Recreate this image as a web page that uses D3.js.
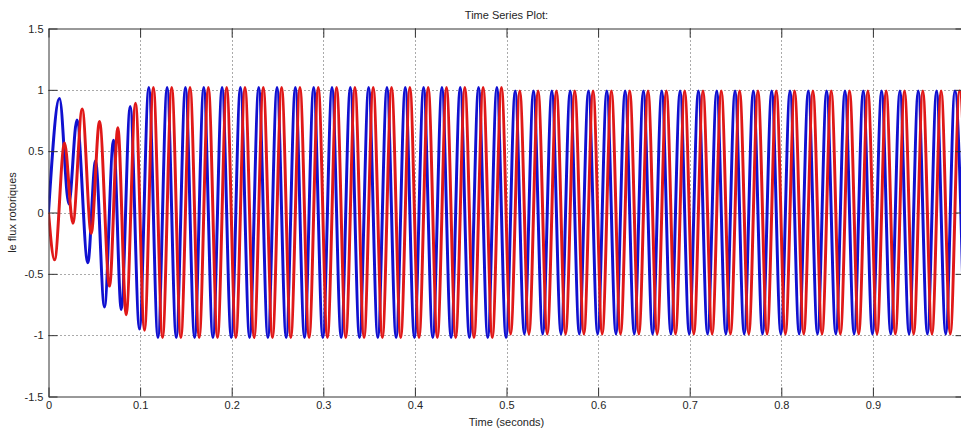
<!DOCTYPE html>
<html>
<head>
<meta charset="utf-8">
<script src="https://cdn.jsdelivr.net/npm/d3@7"></script>
<style>
  body { margin: 0; background: #fff; }
  svg { display: block; }
  text { font-family: "Liberation Sans", Arial, Helvetica, sans-serif; }
</style>
</head>
<body>
<svg id="chart" width="961" height="434"></svg>
<script>
// Axis ticks
const xTicks = [0, 0.1, 0.2, 0.3, 0.4, 0.5, 0.6, 0.7, 0.8, 0.9];
const xTickLabels = ["0", "0.1", "0.2", "0.3", "0.4", "0.5", "0.6", "0.7", "0.8", "0.9"];
const yTicks = [-1.5, -1, -0.5, 0, 0.5, 1, 1.5];
const yTickLabels = ["-1.5", "-1", "-0.5", "0", "0.5", "1", "1.5"];

// Rotor flux, alpha component (blue): turning points of the waveform
const alphaTime = [
  0, 0.012, 0.0222, 0.031, 0.0429, 0.0513, 0.0611, 0.071, 0.0794, 0.0892, 0.0993,
  0.1095, 0.1195, 0.1295, 0.1395, 0.1495, 0.1595, 0.1695, 0.1795, 0.1895, 0.1995,
  0.2095, 0.2195, 0.2295, 0.2395, 0.2495, 0.2595, 0.2695, 0.2795, 0.2895, 0.2995,
  0.3095, 0.3195, 0.3295, 0.3395, 0.3495, 0.3595, 0.3695, 0.3795, 0.3895, 0.3995,
  0.4095, 0.4195, 0.4295, 0.4395, 0.4495, 0.4595, 0.4695, 0.4795, 0.4895, 0.4995,
  0.5095, 0.5195, 0.5295, 0.5395, 0.5495, 0.5595, 0.5695, 0.5795, 0.5895, 0.5995,
  0.6095, 0.6195, 0.6295, 0.6395, 0.6495, 0.6595, 0.6695, 0.6795, 0.6895, 0.6995,
  0.7095, 0.7195, 0.7295, 0.7395, 0.7495, 0.7595, 0.7695, 0.7795, 0.7895, 0.7995,
  0.8095, 0.8195, 0.8295, 0.8395, 0.8495, 0.8595, 0.8695, 0.8795, 0.8895, 0.8995,
  0.9095, 0.9195, 0.9295, 0.9395, 0.9495, 0.9595, 0.9695, 0.9795, 0.9895, 0.9995
];
const alphaFlux = [
  0, 0.93, 0.07, 0.755, -0.41, 0.42, -0.77, 0.59, -0.79, 0.865, -0.95,
  1.02, -1.02, 1.02, -1.02, 1.02, -1.02, 1.02, -1.02, 1.02, -1.02,
  1.02, -1.02, 1.02, -1.02, 1.02, -1.02, 1.02, -1.02, 1.02, -1.02,
  1.02, -1.02, 1.02, -1.02, 1.02, -1.02, 1.02, -1.02, 1.02, -1.02,
  1.02, -1.02, 1.02, -1.02, 1.02, -1.02, 1.02, -1.02, 1.02, -1.02,
  0.99, -0.99, 0.99, -0.99, 0.99, -0.99, 0.99, -0.99, 0.99, -0.99,
  0.99, -0.99, 0.99, -0.99, 0.99, -0.99, 0.99, -0.99, 0.99, -0.99,
  0.99, -0.99, 0.99, -0.99, 0.99, -0.99, 0.99, -0.99, 0.99, -0.99,
  0.99, -0.99, 0.99, -0.99, 0.99, -0.99, 0.99, -0.99, 0.99, -0.99,
  0.99, -0.99, 0.99, -0.99, 0.99, -0.99, 0.99, -0.99, 0.99, -0.99
];

// Rotor flux, beta component (red): turning points of the waveform
const betaTime = [
  0, 0.0066, 0.0175, 0.0266, 0.0368, 0.0466, 0.0557, 0.0666, 0.0757, 0.0848, 0.095, 0.1048,
  0.1145, 0.1245, 0.1345, 0.1445, 0.1545, 0.1645, 0.1745, 0.1845, 0.1945, 0.2045,
  0.2145, 0.2245, 0.2345, 0.2445, 0.2545, 0.2645, 0.2745, 0.2845, 0.2945, 0.3045,
  0.3145, 0.3245, 0.3345, 0.3445, 0.3545, 0.3645, 0.3745, 0.3845, 0.3945, 0.4045,
  0.4145, 0.4245, 0.4345, 0.4445, 0.4545, 0.4645, 0.4745, 0.4845, 0.4945, 0.5045,
  0.5145, 0.5245, 0.5345, 0.5445, 0.5545, 0.5645, 0.5745, 0.5845, 0.5945, 0.6045,
  0.6145, 0.6245, 0.6345, 0.6445, 0.6545, 0.6645, 0.6745, 0.6845, 0.6945, 0.7045,
  0.7145, 0.7245, 0.7345, 0.7445, 0.7545, 0.7645, 0.7745, 0.7845, 0.7945, 0.8045,
  0.8145, 0.8245, 0.8345, 0.8445, 0.8545, 0.8645, 0.8745, 0.8845, 0.8945, 0.9045,
  0.9145, 0.9245, 0.9345, 0.9445, 0.9545, 0.9645, 0.9745, 0.9845, 0.9945, 1.0045
];
const betaFlux = [
  0, -0.386, 0.566, -0.087, 0.843, -0.17, 0.742, -0.6, 0.69, -0.834, 0.89, -0.96,
  1.02, -1.02, 1.02, -1.02, 1.02, -1.02, 1.02, -1.02, 1.02, -1.02,
  1.02, -1.02, 1.02, -1.02, 1.02, -1.02, 1.02, -1.02, 1.02, -1.02,
  1.02, -1.02, 1.02, -1.02, 1.02, -1.02, 1.02, -1.02, 1.02, -1.02,
  1.02, -1.02, 1.02, -1.02, 1.02, -1.02, 1.02, -1.02, 1.02, -0.99,
  0.99, -0.99, 0.99, -0.99, 0.99, -0.99, 0.99, -0.99, 0.99, -0.99,
  0.99, -0.99, 0.99, -0.99, 0.99, -0.99, 0.99, -0.99, 0.99, -0.99,
  0.99, -0.99, 0.99, -0.99, 0.99, -0.99, 0.99, -0.99, 0.99, -0.99,
  0.99, -0.99, 0.99, -0.99, 0.99, -0.99, 0.99, -0.99, 0.99, -0.99,
  0.99, -0.99, 0.99, -0.99, 0.99, -0.99, 0.99, -0.99, 0.99, -0.99
];

const svg = d3.select("#chart");
const plotLeft = 48.5, plotRight = 964.5, plotTop = 28.5, plotBottom = 396.5;
const axisColor = "#333";
const textColor = "#262626";

const x = d3.scaleLinear().domain([0, 1]).range([plotLeft, plotRight]);
const y = d3.scaleLinear().domain([-1.5, 1.5]).range([plotBottom, plotTop]);

svg.append("rect").attr("width", 961).attr("height", 434).attr("fill", "#fff");

svg.append("defs").append("clipPath").attr("id", "plotClip")
  .append("rect")
  .attr("x", plotLeft).attr("y", plotTop)
  .attr("width", plotRight - plotLeft).attr("height", plotBottom - plotTop);

// Dotted grid
const grid = svg.append("g").attr("stroke", "#555").attr("stroke-width", 1)
  .attr("stroke-dasharray", "1,3");
grid.selectAll("line.gx").data(xTicks.filter(d => d > 0)).join("line")
  .attr("class", "gx")
  .attr("x1", d => Math.round(x(d)) + 0.5).attr("x2", d => Math.round(x(d)) + 0.5)
  .attr("y1", plotTop).attr("y2", plotBottom);
grid.selectAll("line.gy").data(yTicks.filter(d => Math.abs(d) < 1.5)).join("line")
  .attr("class", "gy")
  .attr("x1", plotLeft).attr("x2", plotRight)
  .attr("y1", d => Math.round(y(d)) + 0.5).attr("y2", d => Math.round(y(d)) + 0.5);

// Flux traces
const plot = svg.append("g").attr("clip-path", "url(#plotClip)");
const line = d3.line().x(d => x(d[0])).y(d => y(d[1])).curve(d3.curveMonotoneX);

const series = [
  { t: alphaTime, v: alphaFlux, color: "#1010d0" },
  { t: betaTime, v: betaFlux, color: "#e01818" }
];
series.forEach(s => {
  plot.append("path")
    .datum(s.t.map((t, i) => [t, s.v[i]]))
    .attr("fill", "none")
    .attr("stroke", s.color)
    .attr("stroke-width", 3)
    .attr("stroke-linejoin", "round")
    .attr("d", line);
});

// Axes with inward ticks (box on all four sides)
function styleAxis(g) {
  g.selectAll("path.domain").attr("stroke", axisColor).attr("fill", "none");
  g.selectAll(".tick line").attr("stroke", axisColor);
  g.selectAll(".tick text").attr("fill", textColor).style("font-size", "11px");
}

svg.append("g").attr("transform", `translate(0,${plotBottom})`)
  .call(d3.axisBottom(x).tickValues(xTicks).tickSize(-9).tickSizeOuter(0).tickPadding(5)
    .tickFormat((d, i) => xTickLabels[i]))
  .call(styleAxis);

svg.append("g").attr("transform", `translate(0,${plotTop})`)
  .call(d3.axisTop(x).tickValues(xTicks).tickSize(-9).tickSizeOuter(0).tickFormat(""))
  .call(styleAxis);

svg.append("g").attr("transform", `translate(${plotLeft},0)`)
  .call(d3.axisLeft(y).tickValues(yTicks).tickSize(-9).tickSizeOuter(0).tickPadding(5)
    .tickFormat((d, i) => yTickLabels[i]))
  .call(styleAxis);

svg.append("g").attr("transform", `translate(${plotRight},0)`)
  .call(d3.axisRight(y).tickValues(yTicks).tickSize(-9).tickSizeOuter(0).tickFormat(""))
  .call(styleAxis);

// Titles
svg.append("text")
  .attr("x", (plotLeft + plotRight) / 2).attr("y", 19)
  .attr("text-anchor", "middle").attr("fill", textColor)
  .style("font-size", "11px")
  .text("Time Series Plot:");

svg.append("text")
  .attr("x", (plotLeft + plotRight) / 2).attr("y", 426)
  .attr("text-anchor", "middle").attr("fill", textColor)
  .style("font-size", "11px")
  .text("Time (seconds)");

svg.append("text")
  .attr("transform", `translate(16,${(plotTop + plotBottom) / 2}) rotate(-90)`)
  .attr("text-anchor", "middle").attr("fill", textColor)
  .style("font-size", "11px")
  .text("le flux rotoriques");
</script>
</body>
</html>
